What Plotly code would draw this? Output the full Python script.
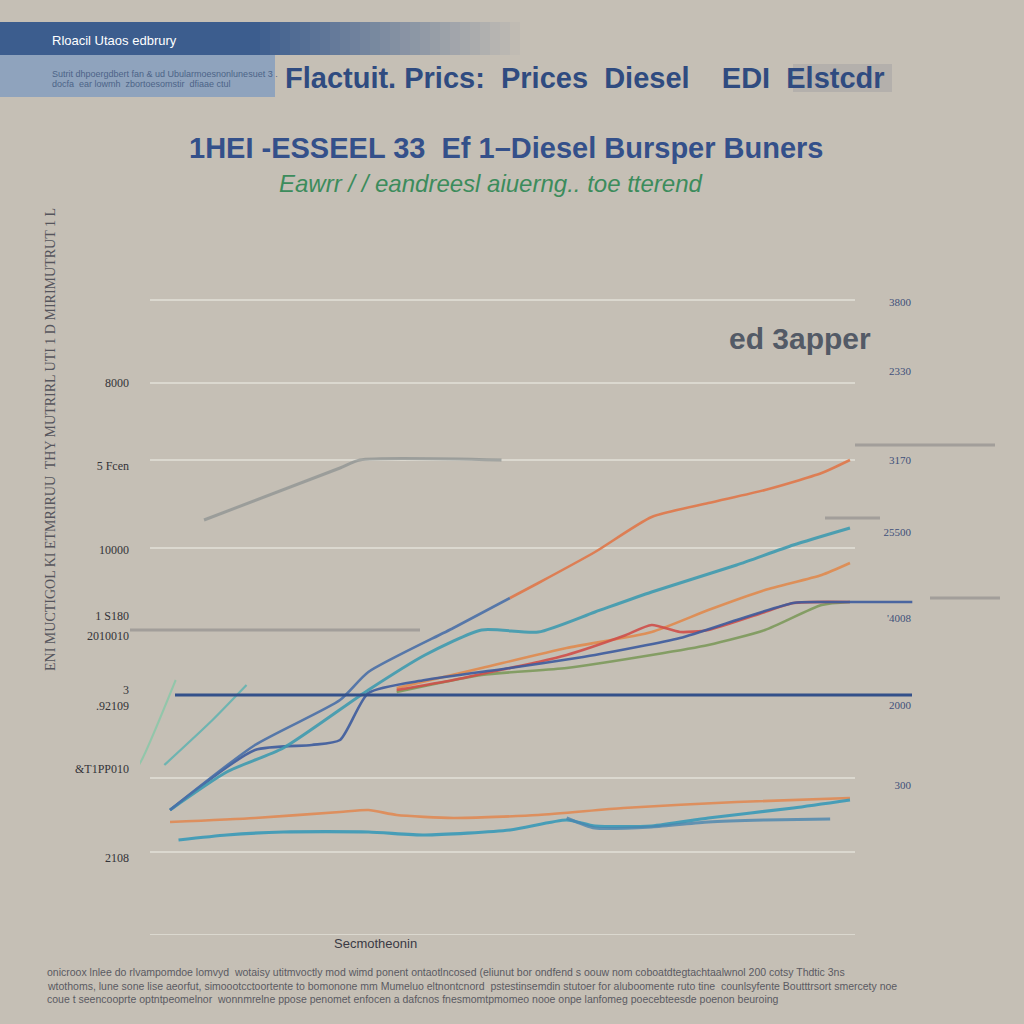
import plotly.graph_objects as go

# years on the x axis, price levels on the y axis
s1_blue_x = [0, 3, 6, 7, 10, 12]
s1_blue_y = [125, 190, 235, 263, 307, 337]
s1_orange_x = [12, 13, 15, 17, 19, 21, 23, 24]
s1_orange_y = [337, 352, 383, 418, 432, 445, 462, 475]
s2_x = [0, 2, 4, 7, 9, 11, 13, 15, 17, 20, 22, 24]
s2_y = [125, 163, 187, 245, 280, 305, 303, 323, 343, 370, 390, 407]
s3_x = [0, 3, 5, 6, 7, 9, 12, 15, 18, 20, 22, 23, 24, 26.2]
s3_y = [125, 185, 190, 195, 242, 255, 267, 280, 297, 315, 332, 333, 333, 333]
s4_x = [8, 10, 12, 13, 14, 16, 17, 18, 19, 21, 22, 24]
s4_y = [245, 255, 267, 273, 280, 299, 310, 303, 305, 323, 332, 333]
s5_x = [8, 11, 14, 17, 19, 21, 23, 24]
s5_y = [247, 267, 287, 303, 325, 345, 360, 372]
s6_x = [8, 11, 14, 17, 19, 21, 23, 24]
s6_y = [243, 260, 267, 280, 290, 305, 330, 333]
s7_x = [1.2, 6, 6.7, 11.7]
s7_y = [415, 467, 475, 475]
s8_x = [-1.9, -1, 0.2]
s8_y = [135, 175, 255]
s9_x = [-0.2, 1.5, 2.7]
s9_y = [170, 215, 250]
low_orange_x = [0, 3, 6, 7, 8, 10, 13, 16, 20, 24]
low_orange_y = [113, 117, 123, 125, 120, 117, 120, 127, 133, 137]
low_teal_x = [0.3, 2, 4, 7, 9, 12, 14, 15, 17, 19, 22, 24]
low_teal_y = [95, 100, 103, 103, 100, 105, 115, 109, 109, 117, 127, 135]
low_blue_x = [14, 15, 17, 19, 21, 23.3]
low_blue_y = [117, 107, 108, 113, 115, 116]

left_vals = [552, 469, 385, 319, 299, 237, 166, 77]
left_text = ["8000", "5 Fcen", "10000", "1 S180", "2010010", "3<br>.92109", "&T1PP010", "2108"]
right_vals = [633, 564, 475, 403, 317, 230, 150]
right_text = ["3800", "2330", "3170", "25500", "'4008", "2000", "300"]
grid_levels = [635, 552, 475, 387, 157, 83, 0]
ref_level = 240

BG = "#c5bfb5"
W, H = 1024, 1024
L, R, T, B = 140, 110, 285, 89
PW, PH = W - L - R, H - T - B


def px(x):
    return (x - L) / PW


def py(y):
    return (H - B - y) / PH


fig = go.Figure()


def add_line(x, y, color, width=2.6, opacity=0.9, axis="y"):
    fig.add_trace(go.Scatter(x=x, y=y, mode="lines", yaxis=axis,
                             line=dict(color=color, width=width, shape="spline", smoothing=0.6),
                             opacity=opacity, hoverinfo="skip", showlegend=False))


add_line(s7_x, s7_y, "#8a9090", 3, 0.7)
add_line(s8_x, s8_y, "#86c8a8", 2, 0.8)
add_line(s9_x, s9_y, "#4ab0b0", 2.2, 0.7)
add_line(s6_x, s6_y, "#7d9a5c")
add_line(s5_x, s5_y, "#e08a4e")
add_line(s4_x, s4_y, "#cf4f4a")
add_line(s3_x, s3_y, "#3d5c9e")
add_line(s2_x, s2_y, "#3f9bb0", 3)
add_line(s1_blue_x, s1_blue_y, "#4a70a8")
add_line(s1_orange_x, s1_orange_y, "#e0784a")
add_line(low_orange_x, low_orange_y, "#e08a55", 2.6)
add_line(low_teal_x, low_teal_y, "#3a9ab8", 3.2)
add_line(low_blue_x, low_blue_y, "#4a86b0", 3, 0.8, axis="y2")

# header bands
fig.add_shape(type="rect", xref="paper", yref="paper", x0=px(-5), x1=px(260), y0=py(55), y1=py(22),
              fillcolor="#3c5d8e", line_width=0, layer="below")
steps = 26
for i in range(steps):
    fig.add_shape(type="rect", xref="paper", yref="paper",
                  x0=px(260 + i * 10), x1=px(270 + i * 10), y0=py(55), y1=py(22),
                  fillcolor="#3c5d8e", opacity=1 - (i + 1) / (steps + 1), line_width=0, layer="below")
fig.add_shape(type="rect", xref="paper", yref="paper", x0=px(-5), x1=px(275), y0=py(97), y1=py(55),
              fillcolor="#8fa3bd", line_width=0, layer="below")
# grey box behind the last title word
fig.add_shape(type="rect", xref="paper", yref="paper", x0=px(793), x1=px(892), y0=py(92), y1=py(64),
              fillcolor="rgba(150,150,155,0.35)", line_width=0, layer="below")

# gridlines
for g in grid_levels:
    fig.add_shape(type="line", xref="paper", yref="y", x0=px(150), x1=px(855), y0=g, y1=g,
                  line=dict(color="rgba(232,229,222,0.85)", width=1.5), layer="below")
# thick reference line
fig.add_shape(type="line", xref="paper", yref="y", x0=px(175), x1=px(912), y0=ref_level, y1=ref_level,
              line=dict(color="#33508a", width=3))
# smears
for x0, x1, yy in [(855, 995, 445), (825, 880, 518), (930, 1000, 598), (130, 420, 630)]:
    fig.add_shape(type="line", xref="paper", yref="paper", x0=px(x0), x1=px(x1), y0=py(yy), y1=py(yy),
                  line=dict(color="rgba(110,110,115,0.4)", width=3))

ann = [
    dict(text="Rloacil Utaos edbrury", x=50, y=41, size=13, color="#ffffff", anchor="left"),
    dict(text="Sutrit dhpoergdbert fan & ud Ubularmoesnonlunesuet 3 .", x=50, y=74, size=9, color="#4d6488", anchor="left"),
    dict(text="docfa  ear lowmh  zbortoesomstir  dfiaae ctul", x=50, y=84, size=9, color="#4d6488", anchor="left"),
    dict(text="<b>Flactuit. Prics:  Prices  Diesel    EDI  Elstcdr</b>", x=283, y=78, size=29, color="#2f4b80", anchor="left"),
    dict(text="<b>1HEI -ESSEEL 33  Ef 1–Diesel Bursper Buners</b>", x=506, y=148, size=29, color="#34508a", anchor="center"),
    dict(text="<i>Eawrr / / eandreesl aiuerng.. toe tterend</i>", x=491, y=184, size=24, color="#3c8c5c", anchor="center"),
    dict(text="<b>ed 3apper</b>", x=800, y=338, size=30, color="#535a66", anchor="center"),
    dict(text="Secmotheonin", x=375, y=943, size=13, color="#3a3a44", anchor="center"),
    dict(text="onicroox lnlee do rlvampomdoe lomvyd  wotaisy utitmvoctly mod wimd ponent ontaotlncosed (eliunut bor ondfend s oouw nom coboatdtegtachtaalwnol 200 cotsy Thdtic 3ns",
         x=45, y=972, size=10.5, color="#5a5a62", anchor="left"),
    dict(text="wtothoms, lune sone lise aeorfut, simoootcctoortente to bomonone mm Mumeluo eltnontcnord  pstestinsemdin stutoer for aluboomente ruto tine  counlsyfente Boutttrsort smercety noe",
         x=45, y=986, size=10.5, color="#5a5a62", anchor="left"),
    dict(text="coue t seencooprte optntpeomelnor  wonnmrelne ppose penomet enfocen a dafcnos fnesmomtpmomeo nooe onpe lanfomeg poecebteesde poenon beuroing",
         x=45, y=999, size=10.5, color="#5a5a62", anchor="left"),
]
for a in ann:
    fig.add_annotation(text=a["text"], x=px(a["x"]), y=py(a["y"]),
                       xref="paper", yref="paper", showarrow=False,
                       xanchor=a["anchor"], yanchor="middle",
                       font=dict(size=a["size"], color=a["color"], family="Liberation Sans"))

# vertical axis title
fig.add_annotation(text="ENI MUCTIGOL KI ETMRIRUU  THY MUTRIRL UTI 1 D MIRIMUTRUT 1 L",
                   x=px(50), y=py(440), xref="paper", yref="paper", textangle=-90,
                   xanchor="center", yanchor="middle",
                   showarrow=False, font=dict(size=14, color="#55555c", family="Liberation Serif"))

fig.update_layout(
    width=W, height=H,
    margin=dict(l=L, r=R, t=T, b=B),
    paper_bgcolor=BG, plot_bgcolor=BG,
    xaxis=dict(range=[-1.06, 26.26], showgrid=False, zeroline=False, showticklabels=False,
               showline=False),
    yaxis=dict(range=[0, 650], tickvals=left_vals, ticktext=left_text,
               showgrid=False, zeroline=False, ticklabelstandoff=10,
               tickfont=dict(family="Liberation Serif", size=12, color="#333338"), ticklen=0),
    yaxis2=dict(range=[0, 650], overlaying="y", side="right", tickvals=right_vals, ticktext=right_text,
                ticklabelposition="inside", showgrid=False, zeroline=False,
                tickfont=dict(family="Liberation Serif", size=11, color="#40507a")),
    showlegend=False,
)

fig.write_html("out.html", config={"displayModeBar": False},
               post_script="document.body.style.margin='0px';")
